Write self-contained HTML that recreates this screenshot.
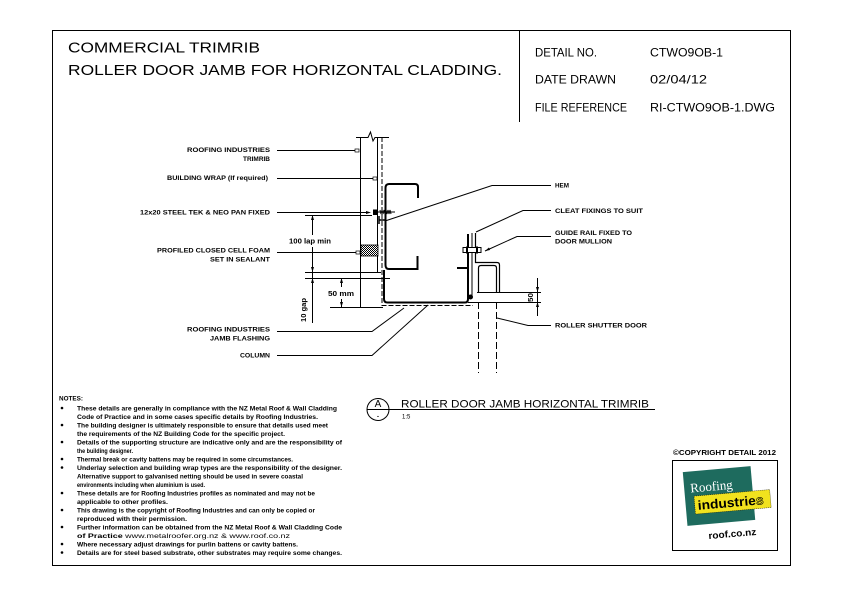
<!DOCTYPE html>
<html><head><meta charset="utf-8"><style>
html,body{margin:0;padding:0;background:#fff}
svg{display:block}
text{font-family:"Liberation Sans",sans-serif;fill:#000}
.lb{font-weight:bold;font-size:6.5px}
.nt{font-weight:bold;font-size:6.6px}
</style></head><body>
<svg width="842" height="595" viewBox="0 0 842 595" xmlns="http://www.w3.org/2000/svg">
<defs>
<pattern id="h" width="2" height="2" patternUnits="userSpaceOnUse"><rect width="2" height="2" fill="#fff"/><rect width="1" height="1" fill="#000"/><rect x="1" y="1" width="1" height="1" fill="#000"/></pattern>
</defs>
<rect width="842" height="595" fill="#fff"/>
<!-- frame -->
<rect x="52.5" y="30.5" width="738" height="535" fill="none" stroke="#000" stroke-width="1"/>
<line x1="519.5" y1="30" x2="519.5" y2="122" stroke="#000" stroke-width="1"/>

<!-- header -->
<text x="68" y="52.5" font-size="15" textLength="192" lengthAdjust="spacingAndGlyphs">COMMERCIAL TRIMRIB</text>
<text x="68" y="75" font-size="15" textLength="434" lengthAdjust="spacingAndGlyphs">ROLLER DOOR JAMB FOR HORIZONTAL CLADDING.</text>
<text x="535" y="56.5" font-size="12" textLength="62" lengthAdjust="spacingAndGlyphs">DETAIL NO.</text>
<text x="650" y="56.5" font-size="12" textLength="73" lengthAdjust="spacingAndGlyphs">CTWO9OB-1</text>
<text x="535" y="83.5" font-size="12" textLength="81" lengthAdjust="spacingAndGlyphs">DATE DRAWN</text>
<text x="650" y="83.5" font-size="12" textLength="57" lengthAdjust="spacingAndGlyphs">02/04/12</text>
<text x="535" y="111.5" font-size="12" textLength="92" lengthAdjust="spacingAndGlyphs">FILE REFERENCE</text>
<text x="650" y="111.5" font-size="12" textLength="125" lengthAdjust="spacingAndGlyphs">RI-CTWO9OB-1.DWG</text>

<g fill="none" stroke="#000" stroke-width="1">
<!-- wall -->
<path d="M356,137.5 H368 L370.5,132 L373,141 L375,137.5 H389"/>
<line x1="360.5" y1="137" x2="360.5" y2="307"/>
<line x1="377.5" y1="137" x2="377.5" y2="272"/>
<path d="M382,137 V305.5 H473" stroke-dasharray="5 2"/>
<!-- dimension ext lines -->
<line x1="305" y1="215.5" x2="372" y2="215.5"/>
<line x1="305" y1="272.5" x2="381" y2="272.5"/>
<line x1="305" y1="278.5" x2="390" y2="278.5"/>
<line x1="330" y1="307.5" x2="383" y2="307.5"/>
<path d="M312.5,215 V235 M312.5,247 V323"/>
<path d="M341.5,278 V287 M341.5,299 V307"/>
<!-- C profile -->
<path d="M418,198 V187 Q418,184 415,184 H389 Q385.5,184 385.5,188 V265 Q385.5,269 389,269 H417.5 V256" stroke-width="2"/>
<!-- lower flashing -->
<path d="M384,270 V299 Q384,302.5 387.5,302.5 H465 Q468,302.5 468,299 V234" stroke-width="2"/>
<path d="M379,216 V224 M379,220 H385" stroke-width="1.5"/>
<line x1="457" y1="268" x2="467" y2="268" stroke-width="2"/>
<!-- screw -->
<line x1="377" y1="212" x2="395" y2="212"/>
<path d="M380,210 L381,214 L382,210 L383,214 L384,210 L385,214 L386,210 L387,214 L388,210 L389,214 L390,210 L391,214"/>
<!-- cleat / rail -->
<line x1="472" y1="233" x2="472" y2="298"/>
<path d="M475.5,233 V262.5 H497 Q499.5,262.5 499.5,265 V292" stroke-width="1.2"/>
<path d="M478.5,292 V268 Q478.5,265.5 481,265.5 H494 Q496.5,265.5 496.5,268 V292" stroke-width="1.2"/>
<line x1="477" y1="292.5" x2="541" y2="292.5"/>
<line x1="468" y1="302.5" x2="541" y2="302.5"/>
<line x1="537.5" y1="278" x2="537.5" y2="316"/>
<path d="M478.5,302 V373 M496.5,302 V373" stroke-dasharray="7 3"/>
<!-- leaders left -->
<line x1="277" y1="150.5" x2="356" y2="150.5"/>
<line x1="277" y1="178.5" x2="373" y2="178.5"/>
<line x1="277" y1="212.5" x2="366" y2="212.5"/>
<line x1="277" y1="252.5" x2="357" y2="252.5"/>
<path d="M277,331.5 H372 L404,308"/>
<path d="M277,355.5 H372 L428,305"/>
<!-- leaders right -->
<path d="M385,221 L492,185.5 H551"/>
<path d="M476,232 L523,210.5 H551"/>
<path d="M485,251 L517,236.5 H551"/>
<path d="M497,318 L528,325.5 H551"/>
</g>
<!-- markers -->
<g fill="#fff" stroke="#000" stroke-width="0.7">
<rect x="355" y="149" width="4" height="3"/>
<rect x="373" y="177" width="4" height="3"/>
<rect x="356" y="251" width="4" height="3"/>
<rect x="463" y="247.5" width="18" height="5" stroke-width="1"/>
</g>
<rect x="361" y="245" width="17" height="11" fill="url(#h)" stroke="#000" stroke-width="0.8"/>
<rect x="373" y="209.5" width="4" height="5.5" fill="#000"/>
<g fill="#000">
<path d="M371,212.5 L366,211 L366,214 Z"/>
<circle cx="470.5" cy="297" r="2.5"/>
<rect x="466" y="246.5" width="2" height="7"/>
<rect x="476" y="246.5" width="2" height="7"/>
<path d="M312.5,215 L311,220 L314,220 Z"/>
<path d="M312.5,272 L311,267 L314,267 Z"/>
<path d="M312.5,278 L311,283 L314,283 Z"/>
<path d="M341.5,278 L340,283 L343,283 Z"/>
<path d="M341.5,307 L340,302 L343,302 Z"/>
<path d="M537.5,292 L536,287 L539,287 Z"/>
<path d="M537.5,302 L536,307 L539,307 Z"/>
<path d="M485,251 L489,247.5 L490,250 Z"/>
</g>

<!-- left labels -->
<text class="lb" x="187" y="152" textLength="83" lengthAdjust="spacingAndGlyphs">ROOFING INDUSTRIES</text>
<text class="lb" x="243" y="161" textLength="27" lengthAdjust="spacingAndGlyphs">TRIMRIB</text>
<text class="lb" x="167" y="180" textLength="101" lengthAdjust="spacingAndGlyphs">BUILDING WRAP (If required)</text>
<text class="lb" x="140" y="214.5" textLength="130" lengthAdjust="spacingAndGlyphs">12x20 STEEL TEK &amp; NEO PAN FIXED</text>
<text class="lb" x="157" y="252.5" textLength="113" lengthAdjust="spacingAndGlyphs">PROFILED CLOSED CELL FOAM</text>
<text class="lb" x="210" y="261.5" textLength="60" lengthAdjust="spacingAndGlyphs">SET IN SEALANT</text>
<text class="lb" x="187" y="331.5" textLength="83" lengthAdjust="spacingAndGlyphs">ROOFING INDUSTRIES</text>
<text class="lb" x="210" y="340.5" textLength="60" lengthAdjust="spacingAndGlyphs">JAMB FLASHING</text>
<text class="lb" x="240" y="357.5" textLength="30" lengthAdjust="spacingAndGlyphs">COLUMN</text>
<text class="lb" x="289" y="243.5" textLength="42" lengthAdjust="spacingAndGlyphs" style="font-size:7px">100 lap min</text>
<text class="lb" x="328" y="296" textLength="26" lengthAdjust="spacingAndGlyphs" style="font-size:7px">50 mm</text>
<text class="lb" transform="translate(306,322) rotate(-90)" textLength="24" lengthAdjust="spacingAndGlyphs" style="font-size:7px">10 gap</text>
<text class="lb" transform="translate(533,302) rotate(-90)" textLength="9" lengthAdjust="spacingAndGlyphs" style="font-size:7.5px">50</text>

<!-- right labels -->
<text class="lb" x="555" y="187.5" textLength="14" lengthAdjust="spacingAndGlyphs">HEM</text>
<text class="lb" x="555" y="213" textLength="88" lengthAdjust="spacingAndGlyphs">CLEAT FIXINGS TO SUIT</text>
<text class="lb" x="555" y="235" textLength="77" lengthAdjust="spacingAndGlyphs">GUIDE RAIL FIXED TO</text>
<text class="lb" x="555" y="243.5" textLength="57" lengthAdjust="spacingAndGlyphs">DOOR MULLION</text>
<text class="lb" x="555" y="327.5" textLength="92" lengthAdjust="spacingAndGlyphs">ROLLER SHUTTER DOOR</text>

<!-- section marker -->
<circle cx="378" cy="409.5" r="11" fill="none" stroke="#000" stroke-width="1"/>
<line x1="367" y1="409.5" x2="655" y2="409.5" stroke="#000" stroke-width="1"/>
<text x="378" y="407" font-size="10" text-anchor="middle">A</text>
<text x="378" y="418.5" font-size="8" text-anchor="middle">-</text>
<text x="401" y="407.5" font-size="11" textLength="248" lengthAdjust="spacingAndGlyphs">ROLLER DOOR JAMB HORIZONTAL TRIMRIB</text>
<text x="402" y="418.5" font-size="6">1:5</text>

<!-- notes -->
<text class="nt" x="59" y="400.5" textLength="24" lengthAdjust="spacingAndGlyphs">NOTES:</text>
<g fill="#000">
<circle cx="62" cy="408" r="1.3"/><circle cx="62" cy="425" r="1.3"/><circle cx="62" cy="442" r="1.3"/>
<circle cx="62" cy="459" r="1.3"/><circle cx="62" cy="467.5" r="1.3"/><circle cx="62" cy="493" r="1.3"/>
<circle cx="62" cy="510" r="1.3"/><circle cx="62" cy="527" r="1.3"/><circle cx="62" cy="544" r="1.3"/>
<circle cx="62" cy="552.5" r="1.3"/>
</g>
<g class="nt">
<text class="nt" x="77" y="410.5" textLength="260" lengthAdjust="spacingAndGlyphs">These details are generally in compliance with the NZ Metal Roof &amp; Wall Cladding</text>
<text class="nt" x="77" y="419" textLength="241" lengthAdjust="spacingAndGlyphs">Code of Practice and in some cases specific details by Roofing Industries.</text>
<text class="nt" x="77" y="427.5" textLength="251" lengthAdjust="spacingAndGlyphs">The building designer is ultimately responsible to ensure that details used meet</text>
<text class="nt" x="77" y="436" textLength="208" lengthAdjust="spacingAndGlyphs">the requirements of the NZ Building Code for the specific project.</text>
<text class="nt" x="77" y="444.5" textLength="265" lengthAdjust="spacingAndGlyphs">Details of the supporting structure are indicative only and are the responsibility of</text>
<text class="nt" x="77" y="453" textLength="56" lengthAdjust="spacingAndGlyphs">the building designer.</text>
<text class="nt" x="77" y="461.5" textLength="216" lengthAdjust="spacingAndGlyphs">Thermal break or cavity battens may be required in some circumstances.</text>
<text class="nt" x="77" y="470" textLength="265" lengthAdjust="spacingAndGlyphs">Underlay selection and building wrap types are the responsibility of the designer.</text>
<text class="nt" x="77" y="478.5" textLength="226" lengthAdjust="spacingAndGlyphs">Alternative support to galvanised netting should be used in severe coastal</text>
<text class="nt" x="77" y="487" textLength="128" lengthAdjust="spacingAndGlyphs">environments including when aluminium is used.</text>
<text class="nt" x="77" y="495.5" textLength="238" lengthAdjust="spacingAndGlyphs">These details are for Roofing Industries profiles as nominated and may not be</text>
<text class="nt" x="77" y="504" textLength="91" lengthAdjust="spacingAndGlyphs">applicable to other profiles.</text>
<text class="nt" x="77" y="512.5" textLength="238" lengthAdjust="spacingAndGlyphs">This drawing is the copyright of Roofing Industries and can only be copied or</text>
<text class="nt" x="77" y="521" textLength="110" lengthAdjust="spacingAndGlyphs">reproduced with their permission.</text>
<text class="nt" x="77" y="529.5" textLength="265" lengthAdjust="spacingAndGlyphs">Further information can be obtained from the NZ Metal Roof &amp; Wall Cladding Code</text>
<text class="nt" x="77" y="538" textLength="213" lengthAdjust="spacingAndGlyphs">of Practice <tspan style="font-weight:normal">www.metalroofer.org.nz &amp; www.roof.co.nz</tspan></text>
<text class="nt" x="77" y="546.5" textLength="221" lengthAdjust="spacingAndGlyphs">Where necessary adjust drawings for purlin battens or cavity battens.</text>
<text class="nt" x="77" y="555" textLength="265" lengthAdjust="spacingAndGlyphs">Details are for steel based substrate, other substrates may require some changes.</text>
</g>

<!-- copyright / logo -->
<text x="673" y="455" font-size="7" font-weight="bold" textLength="103" lengthAdjust="spacingAndGlyphs">©COPYRIGHT DETAIL 2012</text>
<rect x="672.5" y="460.5" width="105" height="90" fill="none" stroke="#000" stroke-width="1"/>
<g transform="rotate(-5 719 496)">
<rect x="685" y="469" width="68" height="54" fill="#1e6b5e"/>
<text x="691" y="490" font-size="13" style="font-family:'Liberation Serif',serif;fill:#fff">Roofing</text>
<rect x="694" y="494" width="76" height="18" fill="#f1e21e" stroke="#000" stroke-width="0.5" stroke-dasharray="1 1"/>
<text x="697" y="508" font-size="13" font-weight="bold" textLength="66" lengthAdjust="spacingAndGlyphs">industrie<tspan style="fill:#f1e21e;stroke:#000;stroke-width:0.6">s</tspan></text>
<text x="705" y="538" font-size="9.5" font-weight="bold" textLength="48" lengthAdjust="spacingAndGlyphs">roof.co.nz</text>
</g>
</svg>
</body></html>
